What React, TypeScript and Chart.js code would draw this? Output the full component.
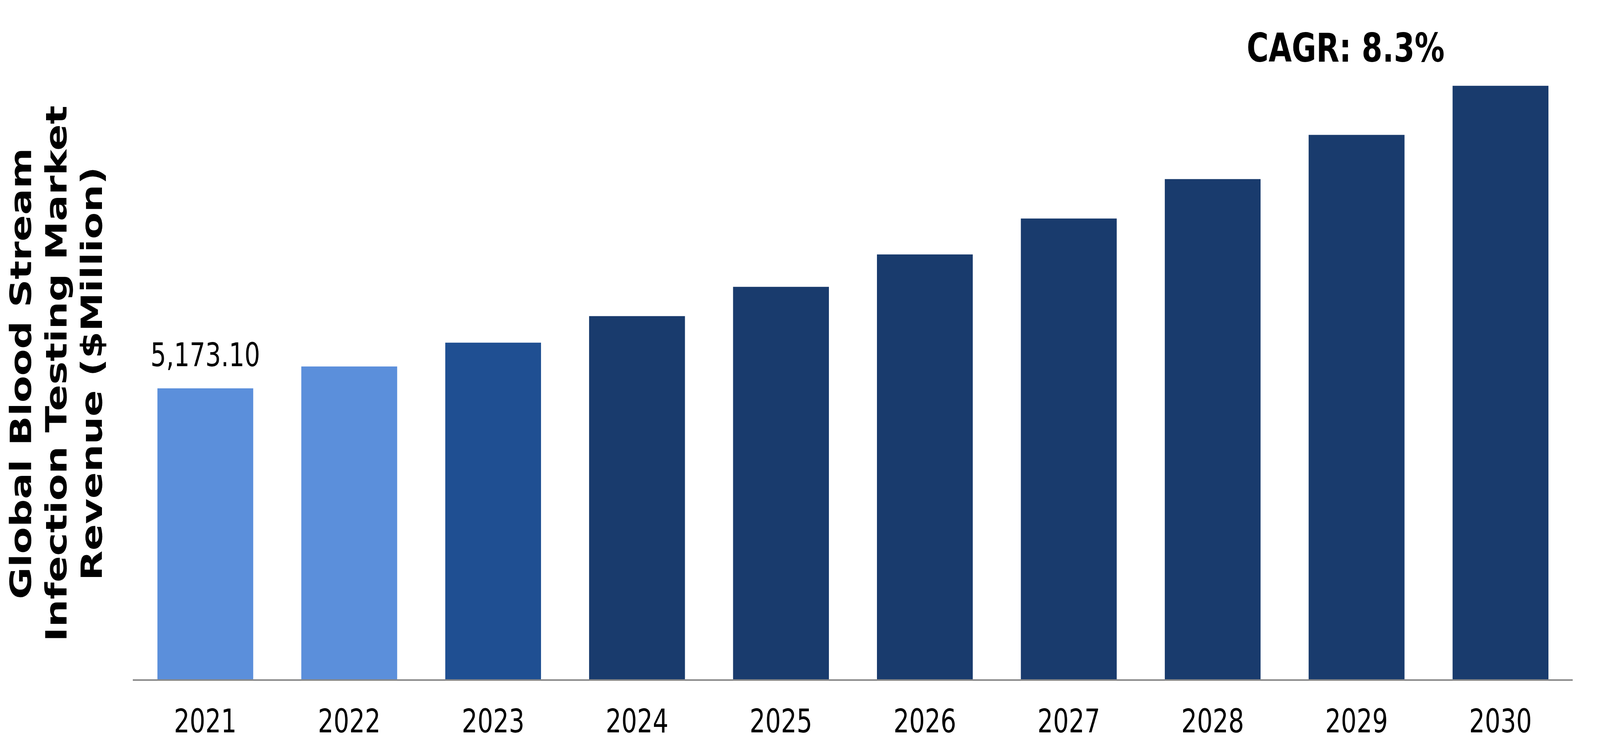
import { useEffect, useRef } from 'react';
import { Chart, ChartConfiguration, Plugin, registerables } from 'chart.js';

Chart.register(...registerables);

// Global Blood Stream Infection Testing Market revenue, $ million
const years = ['2021', '2022', '2023', '2024', '2025', '2026', '2027', '2028', '2029', '2030'];
const revenue = [5173.1, 5561, 5983, 6454, 6974, 7548, 8185, 8885, 9668, 10540];
const valueLabels = ['5,173.10', '', '', '', '', '', '', '', '', ''];
const barColors = [
  '#5B8FDB', '#5B8FDB', '#1F4F92',
  '#193B6D', '#193B6D', '#193B6D', '#193B6D', '#193B6D', '#193B6D', '#193B6D'
];
const yTitle = ['Global Blood Stream', 'Infection Testing Market', 'Revenue ($Million)'];
const cagrText = 'CAGR: 8.3%';

// drawing buffer has the reference size; CSS stretches it over the page
const W = 5459;
const H = 1934;
const FONT = 'Verdana, "DejaVu Sans", sans-serif';

const annotations: Plugin<'bar'> = {
  id: 'annotations',
  afterDatasetsDraw(chart) {
    const { ctx } = chart;
    const meta = chart.getDatasetMeta(0);
    ctx.save();
    ctx.fillStyle = '#000000';
    ctx.textBaseline = 'alphabetic';

    // value label over the first bar
    ctx.font = `84px ${FONT}`;
    ctx.textAlign = 'center';
    meta.data.forEach((bar, i) => {
      if (!valueLabels[i]) return;
      ctx.fillText(valueLabels[i], bar.x, bar.y - 57);
    });

    // growth note above the last bars
    const xScale = chart.scales.x;
    ctx.font = `bold 102px ${FONT}`;
    ctx.textAlign = 'left';
    ctx.fillText(cagrText, xScale.getPixelForValue(8) - 375, 158);
    ctx.restore();
  }
};

export default function App() {
  const canvasRef = useRef<HTMLCanvasElement>(null);
  const chartRef = useRef<Chart | null>(null);

  useEffect(() => {
    if (!canvasRef.current) return;
    if (chartRef.current) chartRef.current.destroy();

    const config: ChartConfiguration<'bar'> = {
      type: 'bar',
      data: {
        labels: years,
        datasets: [{
          label: 'Revenue',
          data: revenue,
          backgroundColor: barColors,
          borderWidth: 0,
          categoryPercentage: 0.666,
          barPercentage: 1
        }]
      },
      options: {
        animation: false,
        responsive: false,
        devicePixelRatio: 1,
        layout: { padding: { top: 172, right: 94, bottom: 29, left: 0 } },
        plugins: {
          legend: { display: false },
          title: { display: false },
          tooltip: { enabled: false }
        },
        scales: {
          x: {
            grid: { display: false, drawTicks: false },
            border: { display: true, color: '#898989', width: 4, z: 1 },
            ticks: {
              color: '#000000',
              padding: 62,
              font: { family: FONT, size: 84 }
            },
            // padding is counted twice by fit(); keep only gap + one label line
            afterFit: (scale) => {
              scale.height = 163;
            }
          },
          y: {
            min: 0,
            max: 10870,
            grid: { display: false, drawTicks: false },
            border: { display: false },
            ticks: { display: false },
            title: {
              display: true,
              text: yTitle,
              color: '#000000',
              padding: { top: 20, bottom: 72 },
              font: { family: FONT, size: 100, weight: 'bold', lineHeight: 1.21 }
            }
          }
        }
      },
      plugins: [annotations]
    };

    chartRef.current = new Chart(canvasRef.current, config);

    return () => {
      if (chartRef.current) {
        chartRef.current.destroy();
        chartRef.current = null;
      }
    };
  }, []);

  return (
    <div style={{ position: 'fixed', inset: 0, overflow: 'hidden', background: '#ffffff' }}>
      <canvas
        ref={canvasRef}
        width={W}
        height={H}
        style={{ display: 'block', width: '100%', height: '100%' }}
      ></canvas>
    </div>
  );
}
